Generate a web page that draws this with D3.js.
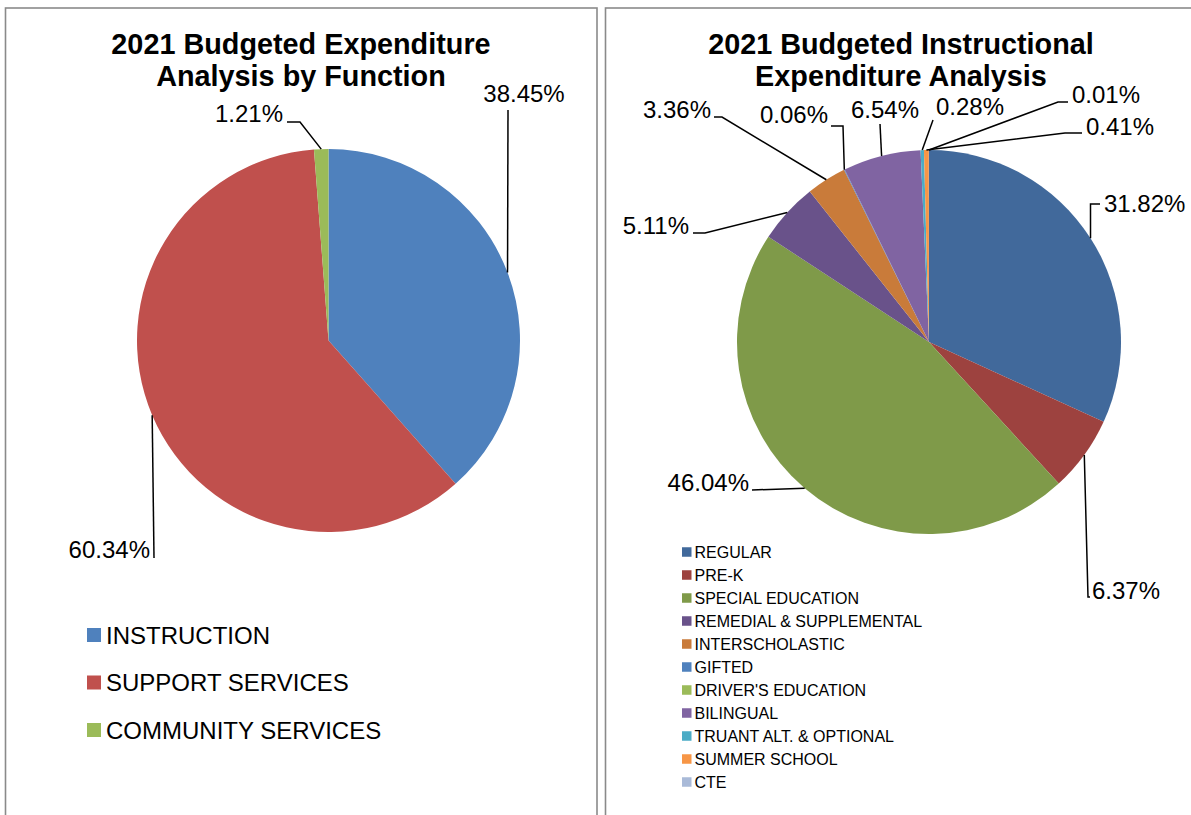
<!DOCTYPE html>
<html>
<head>
<meta charset="utf-8">
<script src="https://cdn.jsdelivr.net/npm/d3@7"></script>
<style>
  html, body { margin: 0; padding: 0; background: #fff; }
  svg { display: block; font-family: "Liberation Sans", Arial, sans-serif; }
</style>
</head>
<body>
<svg id="chart" width="1191" height="815"></svg>
<script>
// ---- data ----
const functionCategories = ["INSTRUCTION", "SUPPORT SERVICES", "COMMUNITY SERVICES"];
const functionValues = [38.45, 60.34, 1.21];
const functionColors = ["#4F81BD", "#C0504D", "#9BBB59"];

const instructionalCategories = [
  "REGULAR", "PRE-K", "SPECIAL EDUCATION", "REMEDIAL & SUPPLEMENTAL",
  "INTERSCHOLASTIC", "GIFTED", "DRIVER'S EDUCATION", "BILINGUAL",
  "TRUANT ALT. & OPTIONAL", "SUMMER SCHOOL", "CTE"
];
const instructionalValues = [31.82, 6.37, 46.04, 5.11, 3.36, 0.06, 0, 6.54, 0.28, 0.41, 0.01];
const instructionalColors = [
  "#41699B", "#9D423F", "#7F9A49", "#69528A", "#C97B3A",
  "#4F81BD", "#9BBB59", "#8064A2", "#4BACC6", "#F79646", "#A9BAD8"
];

const titles = {
  left: ["2021 Budgeted Expenditure", "Analysis by Function"],
  right: ["2021 Budgeted Instructional", "Expenditure Analysis"]
};

// ---- layout ----
const svg = d3.select("#chart");
const fmt = v => d3.format(".2f")(v) + "%";

// panel frames
const frame = svg.append("g").attr("fill", "none").attr("stroke", "#8a8a8a").attr("stroke-width", 1.6);
frame.append("rect").attr("x", 5.5).attr("y", 8).attr("width", 591.5).attr("height", 830);
frame.append("rect").attr("x", 605.5).attr("y", 8).attr("width", 600).attr("height", 830);

function drawTitle(lines, cx) {
  const t = svg.append("text")
    .attr("text-anchor", "middle")
    .attr("font-weight", "bold")
    .attr("font-size", 28.8)
    .attr("fill", "#000");
  lines.forEach((ln, i) => {
    t.append("tspan").attr("x", cx).attr("y", 54 + i * 31.5).text(ln);
  });
}

// label placement for each slice: elbow points of the leader line and text anchor
const functionLabelLayout = [
  { pts: [[508, 110]], tx: 524, ty: 102, anchor: "middle" },
  { pts: [[154, 558]], tx: 150, ty: 558, anchor: "end" },
  { pts: [[300, 122], [287, 122]], tx: 283, ty: 122, anchor: "end" }
];
const instructionalLabelLayout = [
  { pts: [[1090.5, 204], [1100, 204]], tx: 1104, ty: 212, anchor: "start" },
  { pts: [[1088, 597], [1090, 597]], tx: 1092, ty: 599, anchor: "start" },
  { pts: [[752, 490]], tx: 749, ty: 491, anchor: "end" },
  { pts: [[705, 233], [693, 233]], tx: 689, ty: 234, anchor: "end" },
  { pts: [[722, 117], [714, 117]], tx: 711, ty: 118, anchor: "end" },
  { pts: [[843, 126], [831, 126]], tx: 828, ty: 123, anchor: "end" },
  null,
  { pts: [[880, 124]], tx: 885, ty: 118, anchor: "middle" },
  { pts: [[933, 120]], tx: 936, ty: 115, anchor: "start" },
  { pts: [[1065, 133], [1082, 133]], tx: 1086, ty: 135, anchor: "start" },
  { pts: [[1058, 102], [1068, 102]], tx: 1072, ty: 103, anchor: "start" }
];

function drawPie(values, colors, cx, cy, r, layout) {
  const pie = d3.pie().sort(null).value(d => d);
  const arcs = pie(values);
  const arc = d3.arc().innerRadius(0).outerRadius(r);
  const edge = d3.arc().innerRadius(r).outerRadius(r);

  const g = svg.append("g").attr("transform", `translate(${cx},${cy})`);
  g.selectAll("path.slice")
    .data(arcs)
    .join("path")
    .attr("class", "slice")
    .attr("d", arc)
    .attr("fill", (d, i) => colors[i]);

  const line = d3.line();
  arcs.forEach((d, i) => {
    const lay = layout[i];
    if (!lay || d.value === 0) return;
    const [ex, ey] = edge.centroid(d);
    const pts = [[cx + ex, cy + ey]].concat(lay.pts);
    svg.append("path")
      .attr("d", line(pts))
      .attr("fill", "none")
      .attr("stroke", "#000")
      .attr("stroke-width", 1.5);
    svg.append("text")
      .attr("x", lay.tx)
      .attr("y", lay.ty)
      .attr("text-anchor", lay.anchor)
      .attr("font-size", 24)
      .attr("fill", "#000")
      .text(fmt(d.value));
  });
}

function drawLegend(cats, colors, x, y0, step, box, fontSize, gap) {
  const g = svg.append("g");
  const rows = g.selectAll("g.row")
    .data(cats)
    .join("g")
    .attr("class", "row")
    .attr("transform", (d, i) => `translate(${x},${y0 + i * step})`);
  rows.append("rect")
    .attr("x", 0)
    .attr("y", -box / 2)
    .attr("width", box)
    .attr("height", box)
    .attr("fill", (d, i) => colors[i]);
  rows.append("text")
    .attr("x", box + gap)
    .attr("y", fontSize * 0.36)
    .attr("font-size", fontSize)
    .attr("fill", "#000")
    .text(d => d);
}

// left chart
drawTitle(titles.left, 301);
drawPie(functionValues, functionColors, 328.5, 340.5, 191.5, functionLabelLayout);
drawLegend(functionCategories, functionColors, 87, 635, 47.5, 14, 24, 5);

// right chart
drawTitle(titles.right, 901);
drawPie(instructionalValues, instructionalColors, 929, 342, 192, instructionalLabelLayout);
drawLegend(instructionalCategories, instructionalColors, 682, 552, 23, 9.5, 16, 3);
</script>
</body>
</html>
